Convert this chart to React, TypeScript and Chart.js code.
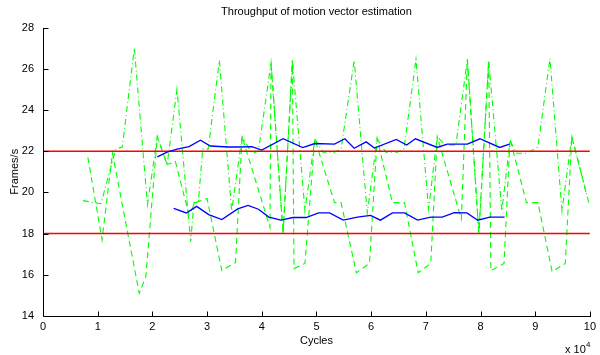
import React, { useEffect, useRef } from "react";
import { Chart, registerables } from "chart.js";

Chart.register(...registerables);

// ---- data ----
const titleText = "Throughput of motion vector estimation";
const xLabel = "Cycles";
const yLabel = "Frames/s";
const xTicks = [0, 1, 2, 3, 4, 5, 6, 7, 8, 9, 10];
const yTicks = [14, 16, 18, 20, 22, 24, 26, 28];
const limitLevels = [22, 18];
const limitRange = [0, 10];

// green dash-dot series
const g1X = [0.73, 0.94, 1.06, 1.33, 1.45, 1.67, 1.91, 2.09, 2.27, 2.45, 2.7, 2.76, 2.84, 2.92, 3.02, 3.225, 3.45, 3.64, 3.82, 3.94, 4.17, 4.39, 4.56, 4.79, 4.97, 5.12, 5.33, 5.45, 5.69, 5.93, 6.11, 6.27, 6.48, 6.6, 6.82, 7.05, 7.21, 7.35, 7.55, 7.76, 7.97, 8.15, 8.39, 8.54, 8.66, 8.84, 9.05, 9.27, 9.49, 9.67, 9.98];
const g1Y = [19.6, 19.5, 19.45, 22.1, 22.2, 27.0, 19.4, 22.7, 21.35, 25.0, 17.6, 19.5, 19.5, 22.1, 22.1, 26.4, 19.1, 22.7, 21.9, 22.0, 26.3, 18.0, 26.4, 19.1, 22.6, 21.95, 21.95, 22.1, 26.4, 19.0, 22.6, 21.95, 21.95, 22.1, 26.45, 19.2, 22.7, 22.3, 22.3, 26.45, 18.0, 26.4, 19.1, 22.5, 21.9, 21.9, 22.2, 26.5, 19.1, 22.7, 19.5];

// green dashed series
const g2X = [0.82, 1.08, 1.27, 1.76, 1.88, 2.09, 2.27, 2.42, 2.67, 2.78, 3.0, 3.27, 3.52, 3.64, 4.15, 4.17, 4.39, 4.56, 4.59, 4.79, 4.97, 5.33, 5.45, 5.73, 5.97, 6.11, 6.39, 6.61, 6.86, 7.09, 7.21, 7.65, 7.76, 7.97, 8.15, 8.19, 8.43, 8.54, 8.84, 9.05, 9.31, 9.55, 9.67, 9.95];
const g2Y = [21.7, 17.7, 21.9, 15.1, 15.9, 22.7, 21.35, 21.5, 18.9, 19.5, 19.7, 16.2, 16.6, 22.7, 18.3, 26.3, 18.0, 26.4, 16.3, 16.55, 22.6, 19.5, 19.5, 16.1, 16.55, 22.6, 19.5, 19.5, 16.1, 16.55, 22.7, 18.7, 26.45, 18.0, 26.4, 16.2, 16.55, 22.6, 19.5, 19.5, 16.15, 16.55, 22.7, 19.8];

// blue upper series
const b1X = [2.09, 2.27, 2.45, 2.67, 2.88, 3.06, 3.39, 3.58, 3.82, 4.0, 4.39, 4.75, 4.97, 5.33, 5.52, 5.69, 5.91, 6.06, 6.46, 6.65, 6.81, 7.21, 7.39, 7.76, 7.99, 8.35, 8.53];
const b1Y = [21.72, 21.95, 22.1, 22.22, 22.53, 22.25, 22.2, 22.2, 22.22, 22.05, 22.6, 22.17, 22.37, 22.34, 22.6, 22.14, 22.45, 22.15, 22.57, 22.3, 22.6, 22.18, 22.34, 22.34, 22.6, 22.18, 22.34];

// blue lower series
const b2X = [2.39, 2.62, 2.81, 3.03, 3.27, 3.56, 3.75, 3.94, 4.13, 4.35, 4.57, 4.81, 5.04, 5.24, 5.49, 5.75, 5.99, 6.17, 6.39, 6.61, 6.85, 7.09, 7.3, 7.52, 7.75, 7.95, 8.17, 8.44];
const b2Y = [19.22, 19.0, 19.32, 18.92, 18.68, 19.2, 19.37, 19.18, 18.8, 18.65, 18.78, 18.78, 19.0, 19.0, 18.65, 18.8, 18.88, 18.65, 19.0, 19.0, 18.65, 18.8, 18.8, 19.02, 19.0, 18.65, 18.8, 18.8];

const FONT = '"Liberation Sans", Arial, Helvetica, sans-serif';

const toPts = (xs: number[], ys: number[]) => xs.map((x, i) => ({ x, y: ys[i] }));

const matlabAxes = {
  id: "matlabAxes",
  afterDraw(chart: any) {
    const { ctx, chartArea: a, scales } = chart;
    ctx.save();
    ctx.strokeStyle = "#000";
    ctx.lineWidth = 1;
    const L = Math.round(a.left) + 0.5;
    const B = Math.round(a.bottom) + 0.5;
    ctx.beginPath();
    ctx.moveTo(L, Math.round(a.top));
    ctx.lineTo(L, B);
    ctx.lineTo(Math.round(a.right) + 1, B);
    for (const v of yTicks) {
      const y = Math.round(scales.y.getPixelForValue(v)) + 0.5;
      ctx.moveTo(L, y);
      ctx.lineTo(L + 5, y);
    }
    for (const v of xTicks) {
      const x = Math.round(scales.x.getPixelForValue(v)) + 0.5;
      ctx.moveTo(x, B);
      ctx.lineTo(x, B - 5);
    }
    ctx.stroke();

    const cx = (a.left + a.right) / 2;
    const cy = (a.top + a.bottom) / 2;
    ctx.fillStyle = "#000";
    ctx.font = `11px ${FONT}`;
    ctx.textAlign = "center";
    ctx.textBaseline = "middle";
    ctx.fillText(titleText, cx, 12);
    ctx.fillText(xLabel, cx, 341);
    ctx.save();
    ctx.translate(15, cy);
    ctx.rotate(-Math.PI / 2);
    ctx.fillText(yLabel, 0, 0);
    ctx.restore();
    // exponent label
    ctx.textAlign = "left";
    ctx.textBaseline = "alphabetic";
    ctx.font = `11px ${FONT}`;
    ctx.fillText("x 10", 565, 353);
    ctx.font = `8px ${FONT}`;
    ctx.fillText("4", 586, 347);
    ctx.restore();
  },
};

export default function App() {
  const ref = useRef<HTMLCanvasElement | null>(null);
  useEffect(() => {
    if (!ref.current) return;
    const lineBase = { pointRadius: 0, pointHoverRadius: 0, tension: 0, fill: false };
    const chart = new Chart(ref.current, {
      type: "line",
      data: {
        datasets: [
          { ...lineBase, data: toPts(b1X, b1Y), borderColor: "#0000ff", borderWidth: 1.3 },
          { ...lineBase, data: toPts(b2X, b2Y), borderColor: "#0000ff", borderWidth: 1.3 },
          ...limitLevels.map((lv) => ({
            ...lineBase,
            data: limitRange.map((x) => ({ x, y: lv })),
            borderColor: "#ff0000",
            borderWidth: 1.5,
          })),
          { ...lineBase, data: toPts(g1X, g1Y), borderColor: "#00ff00", borderWidth: 1.1, borderDash: [6, 3, 1, 3] },
          { ...lineBase, data: toPts(g2X, g2Y), borderColor: "#00ff00", borderWidth: 1.1, borderDash: [6, 4] },
        ] as any,
      },
      options: {
        responsive: false,
        animation: false,
        events: [],
        layout: { padding: { left: 0, top: 27.5, right: 6.5, bottom: 0 } },
        plugins: { legend: { display: false }, tooltip: { enabled: false }, title: { display: false } },
        scales: {
          x: {
            type: "linear",
            min: 0,
            max: 10,
            afterBuildTicks: (s: any) => {
              s.ticks = xTicks.map((v) => ({ value: v }));
            },
            afterFit: (s: any) => {
              s.height = 39;
            },
            grid: { display: false, drawTicks: false },
            border: { display: false },
            ticks: { color: "#000", font: { family: FONT, size: 11 }, padding: 4, maxRotation: 0, autoSkip: false },
          },
          y: {
            type: "linear",
            min: 14,
            max: 28,
            afterBuildTicks: (s: any) => {
              s.ticks = yTicks.map((v) => ({ value: v }));
            },
            afterFit: (s: any) => {
              s.width = 43;
            },
            grid: { display: false, drawTicks: false },
            border: { display: false },
            ticks: { color: "#000", font: { family: FONT, size: 11 }, padding: 9, autoSkip: false },
          },
        },
      } as any,
      plugins: [matlabAxes],
    });
    return () => chart.destroy();
  }, []);
  return (
    <div style={{ position: "absolute", left: 0, top: 0, width: 600, height: 355, background: "#fff" }}>
      <canvas ref={ref} width={600} height={355} />
    </div>
  );
}
